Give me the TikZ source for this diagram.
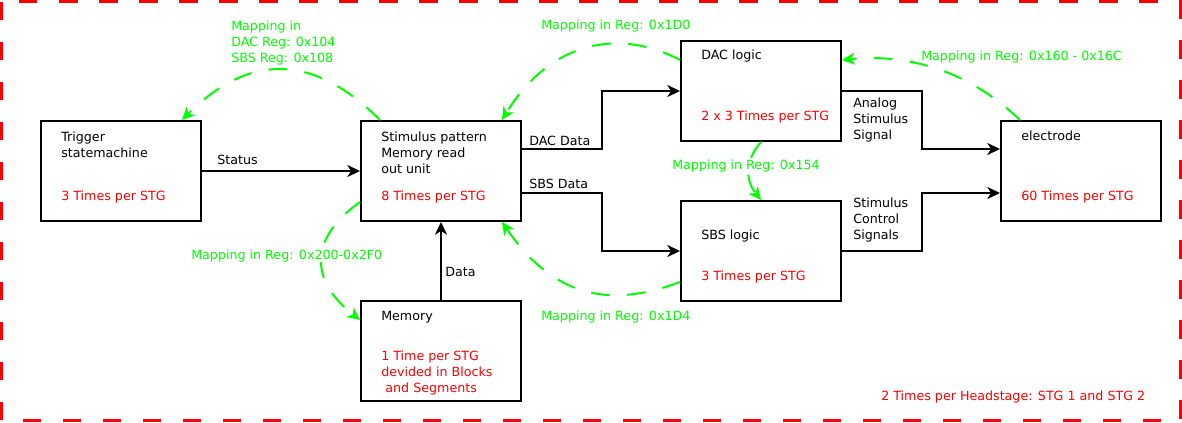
\documentclass[tikz,border=0pt]{standalone}
\usepackage{fontspec}
\setmainfont{DejaVu Sans}
\usetikzlibrary{arrows.meta,calc,positioning}
\definecolor{mapgreen}{RGB}{0,255,0}

\begin{document}
\begin{tikzpicture}[x=0.75pt,y=-0.75pt]
  \tikzstyle{block}=[rectangle, draw=black, line width=1.5pt, minimum width=120pt, minimum height=75pt, inner sep=0pt]
  \tikzstyle{txt}=[anchor=west, inner sep=0pt, align=left, font=\fontsize{9.5pt}{12pt}\selectfont]
  \tikzstyle{num}=[txt, text=red]
  \tikzstyle{maptxt}=[txt, text=mapgreen]
  \tikzstyle{conn}=[-{Stealth[length=9.5pt,width=9pt,inset=2.8pt]}, line width=1.5pt]
  \tikzstyle{map}=[conn, draw=mapgreen, dash pattern=on 14pt off 13pt]

  \useasboundingbox (0,0) rectangle (1182,422);
  \draw[red, line width=1.9pt, dash pattern=on 14pt off 16pt] (1.5,1.5) rectangle (1180.5,420.5);

  \node[block] (trig) at (121,171) {};
  \node[block] (stim) at (441,171) {};
  \node[block] (mem) at (441,351) {};
  \node[block] (dac) at (761,91) {};
  \node[block] (sbs) at (761,251) {};
  \node[block] (elec) at (1081,171) {};

  \node[txt] (trigname) at (61,145) {Trigger\\statemachine};
  \node[num] (trignum) at (61,197) {3 Times per STG};
  \node[txt] (stimname) at (381,153) {Stimulus pattern\\Memory read\\out unit};
  \node[num] (stimnum) at (381,197) {8 Times per STG};
  \node[txt] (memname) at (381,317) {Memory};
  \node[num] (memnum) at (381,373) {1 Time per STG\\devided in Blocks\\\hspace*{0.33em}and Segments};
  \node[txt] (dacname) at (701,56) {DAC logic};
  \node[num] (dacnum) at (701,117) {2 x 3 Times per STG};
  \node[txt] (sbsname) at (701,236) {SBS logic};
  \node[num] (sbsnum) at (701,277) {3 Times per STG};
  \node[txt] (elecname) at (1021,136) {electrode};
  \node[num] (elecnum) at (1021,197) {60 Times per STG};

  % data paths
  \draw[conn] (trig) -- (stim);
  \draw[conn] ($(stim.east)+(0,-22)$) -- ++(80,0) |- (dac.west);
  \draw[conn] ($(stim.east)+(0,22)$) -- ++(80,0) |- (sbs.west);
  \draw[conn] (mem) -- (stim);
  \draw[conn] (dac.east) -- ++(80,0) |- ($(elec.west)+(0,-22)$);
  \draw[conn] (sbs.east) -- ++(80,0) |- ($(elec.west)+(0,22)$);

  \node[txt] (status) at (217,160) {Status};
  \node[txt] (dacdata) at (529,141) {DAC Data};
  \node[txt] (sbsdata) at (529,184) {SBS Data};
  \node[txt] (data) at (445,272) {Data};
  \node[txt] (analog) at (853,120) {Analog\\Stimulus\\Signal};
  \node[txt] (control) at (853,220) {Stimulus\\Control\\Signals};

  % register mappings
  \draw[map] ($(stim.north west)+(20,0)$) .. controls (313,53) and (249,53) .. ($(trig.north east)+(-20,0)$);
  \draw[map] ($(dac.north west)+(0,20)$) .. controls (615,26) and (548,44.5) .. ($(stim.north east)+(-20,0)$);
  \draw[map] ($(elec.north west)+(20,0)$) .. controls (970.6,72.7) and (911,53) .. ($(dac.north east)+(0,20)$);
  \draw[map] (dac.south) .. controls (745,160) and (745,180) .. (sbs.north);
  \draw[map] ($(stim.south west)+(0,-20)$) .. controls (308,239) and (310,281) .. ($(mem.north west)+(0,20)$);
  \draw[map] ($(sbs.south west)+(0,-20)$) .. controls (606.6,309.8) and (552,294.8) .. ($(stim.south east)+(-20,0)$);

  \node[maptxt] (map1) at (231,43) {Mapping in\\DAC Reg: 0x104\\SBS Reg: 0x108};
  \node[maptxt] (map2) at (541,26) {Mapping in Reg: 0x1D0};
  \node[maptxt] (map3) at (921,57) {Mapping in Reg: 0x160 - 0x16C};
  \node[maptxt, fill=white] (map4) at (672,166) {Mapping in Reg: 0x154};
  \node[maptxt, fill=white] (map5) at (191,256) {Mapping in Reg: 0x200-0x2F0};
  \node[maptxt] (map6) at (541,317) {Mapping in Reg: 0x1D4};

  \node[num] (headstage) at (881,397) {2 Times per Headstage: STG 1 and STG 2};
\end{tikzpicture}
\end{document}
